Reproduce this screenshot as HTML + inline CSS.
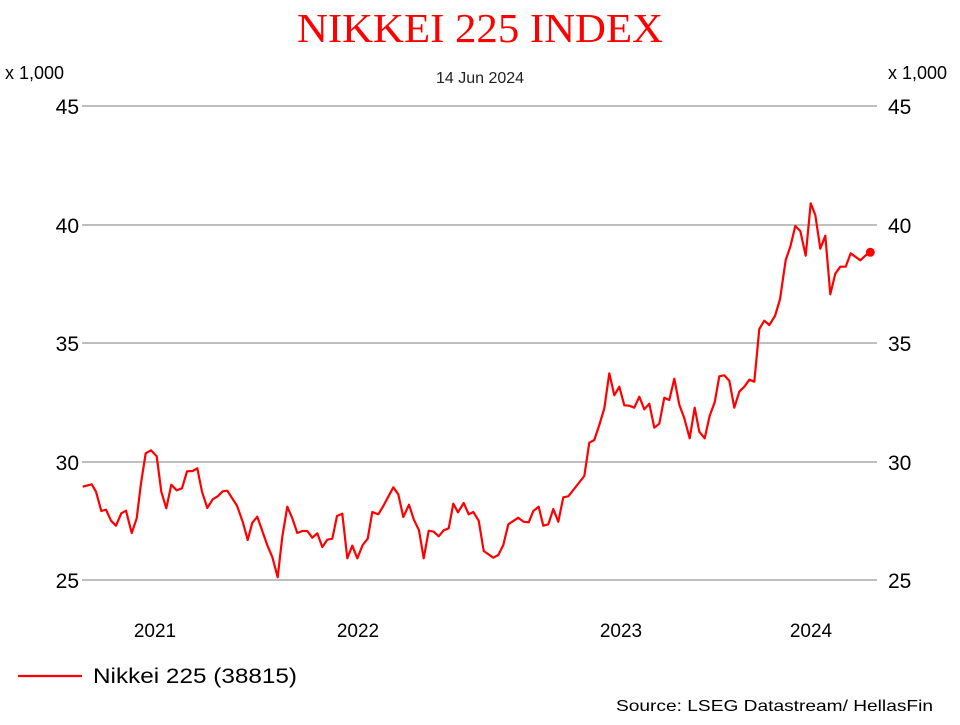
<!DOCTYPE html>
<html><head><meta charset="utf-8"><style>
body{margin:0;background:#fff}
svg text{font-family:"Liberation Sans",sans-serif}
</style></head><body>
<svg width="960" height="720" xmlns="http://www.w3.org/2000/svg">
<rect width="960" height="720" fill="#fff"/>
<text x="297" y="42" textLength="366" lengthAdjust="spacingAndGlyphs" fill="#ff0000" font-size="41" style="font-family:'Liberation Serif',serif">NIKKEI 225 INDEX</text>
<text x="480" y="83" text-anchor="middle" fill="#222" font-size="16">14 Jun 2024</text>
<text x="5" y="79" fill="#000" font-size="18">x 1,000</text>
<text x="888" y="79" fill="#000" font-size="18">x 1,000</text>
<g stroke="#999" stroke-width="1.2">
<line x1="82" y1="106" x2="877" y2="106"/><line x1="82" y1="225" x2="877" y2="225"/>
<line x1="82" y1="343" x2="877" y2="343"/><line x1="82" y1="462" x2="877" y2="462"/>
<line x1="82" y1="580" x2="877" y2="580"/>
</g>
<g font-size="21" fill="#000">
<text x="79" y="114" text-anchor="end">45</text><text x="79" y="233" text-anchor="end">40</text>
<text x="79" y="351" text-anchor="end">35</text><text x="79" y="470" text-anchor="end">30</text>
<text x="79" y="588" text-anchor="end">25</text>
<text x="888" y="114">45</text><text x="888" y="233">40</text><text x="888" y="351">35</text>
<text x="888" y="470">30</text><text x="888" y="588">25</text>
<text x="155" y="637" text-anchor="middle" font-size="19">2021</text>
<text x="358" y="637" text-anchor="middle" font-size="19">2022</text>
<text x="621" y="637" text-anchor="middle" font-size="19">2023</text>
<text x="811" y="637" text-anchor="middle" font-size="19">2024</text>
</g>
<polyline fill="none" stroke="#ff0000" stroke-width="2.2" stroke-linejoin="round" points="82.7,486.7 91.7,484.3 96,491.7 101.3,511 106,509.7 111,520.7 116,525.7 121.3,513.3 126,510.7 131.7,533 136.7,518.3 141,483.3 145.7,453.3 151,450.3 156.7,456.3 161.3,491.7 166.3,508.3 171.3,484.7 176.7,490.3 182,488.3 187,471.3 192.7,471 197.3,468.3 202,491.7 207.3,508 212.7,499.3 217.7,496.3 222.7,491.3 227.3,490.7 232,498 237,505.7 242.7,521.7 247.7,540 252.3,522.7 257.3,516.7 262.3,531 267.3,545.3 272.3,557 277.7,577.3 282.3,536.7 287.3,506.7 292.3,518.3 297.3,533 302.3,531 307.3,531 312.3,537.7 317.3,533.3 322.3,547 327.3,539.7 332.3,538.7 337,516 342.3,513.7 347.3,558.3 352.3,545.7 357.3,558.3 362.7,545 367.7,538.7 372.3,512 378.3,514.3 383.3,506 388.3,496.7 393.3,487.3 398.3,494.3 403.3,517 409,504.7 413.7,519.3 419,530.3 423.7,558.3 428.7,530.7 433.7,531.7 438.7,536.3 443.7,530.3 448.7,528.3 453.3,503.7 458,512.3 463.7,503 468.7,514.3 473.3,512 478.7,520.7 483.7,551 493.3,557.7 498.3,555 503.3,545 508.3,524.3 518.3,517.7 523.3,521.7 528.7,522.3 533.3,511 538.7,506.7 543.3,525.7 548.3,524.3 553.3,509 558.3,521.7 563.3,497.3 568.3,496.3 573.3,490 584.3,476 589.3,442.7 594.3,440 599.3,425 604.3,408.3 609.3,373.3 614.3,395.3 619.3,386.7 624.3,405.3 629.3,405.7 634.3,407.7 639.3,396.7 644.3,409.3 649.3,403.7 654.3,427.7 659.3,423.7 664.3,397.7 669.3,400 674.3,378.7 679.3,404.7 684.3,418.3 689.7,438.3 694.7,407.7 699.3,431.7 704.7,438.3 709.7,415.7 714.7,402.3 719.3,376.3 724.3,375.3 729.3,380.7 734.3,407.7 739.3,391.7 744.3,386.7 749.3,379.7 754.3,381.7 759.3,329 764.3,320.7 769.3,325 775,316 780,299.3 785.7,260 790.3,246.7 795.3,226 800.3,231 805.7,255.7 810.7,203.3 815.3,215 820.3,248.7 825.3,235.7 830.3,294.3 835.3,273.7 840.3,266.7 845.7,266.7 850.7,253.3 860.3,260.3 865.3,255.7 870.3,252.3"/>
<circle cx="870.3" cy="252.3" r="4.5" fill="#ff0000"/>
<line x1="18" y1="676" x2="82" y2="676" stroke="#ff0000" stroke-width="2.2"/>
<text x="93" y="683" font-size="21" fill="#000" textLength="204" lengthAdjust="spacingAndGlyphs">Nikkei 225 (38815)</text>
<text x="616" y="711" font-size="16" fill="#000" textLength="317" lengthAdjust="spacingAndGlyphs">Source: LSEG Datastream/ HellasFin</text>
</svg>
</body></html>
